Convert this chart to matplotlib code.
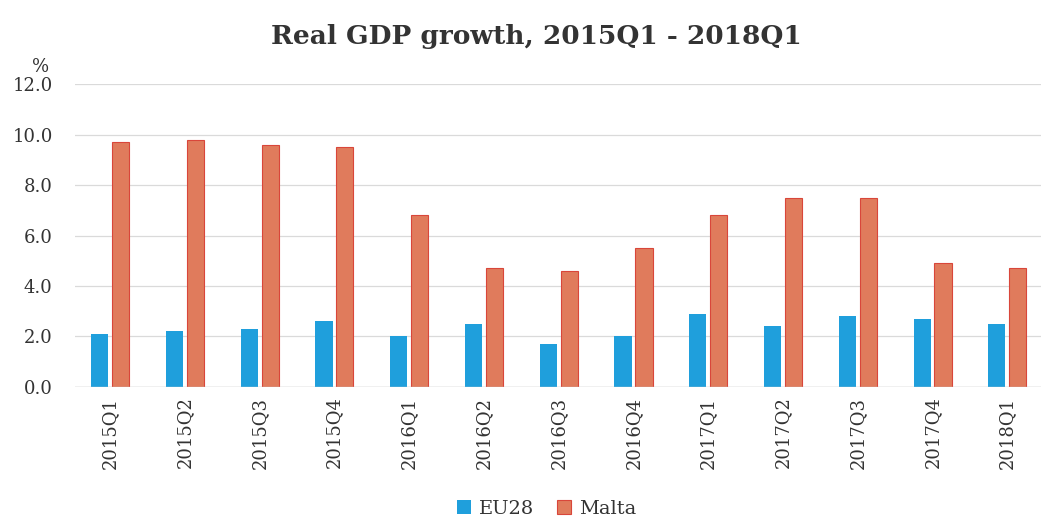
import numpy as np
import matplotlib.pyplot as plt

quarters = ['2015Q1', '2015Q2', '2015Q3', '2015Q4', '2016Q1', '2016Q2', '2016Q3',
            '2016Q4', '2017Q1', '2017Q2', '2017Q3', '2017Q4', '2018Q1']
eu28 = [2.1, 2.2, 2.3, 2.6, 2.0, 2.5, 1.7, 2.0, 2.9, 2.4, 2.8, 2.7, 2.5]
malta = [9.7, 9.8, 9.6, 9.5, 6.8, 4.7, 4.6, 5.5, 6.8, 7.5, 7.5, 4.9, 4.7]

plt.rcParams['font.family'] = ['DejaVu Serif']

fig = plt.figure(figsize=(10.41, 5.2), dpi=100)
ax = fig.add_axes([0.072, 0.256, 0.928, 0.582])

x = np.arange(len(quarters))
w = 0.23
ax.bar(x - w / 2 - 0.025, eu28, w, color='#1f9fdc', label='EU28')
ax.bar(x + w / 2 + 0.025, malta, w, color='#e07b5c', edgecolor='#d9463a',
       linewidth=0.8, label='Malta')

ax.set_ylim(0, 12)
ax.set_xlim(-0.47, 12.45)
ax.set_yticks(np.arange(0, 12.1, 2))
ax.set_yticklabels([f'{v:.1f}' for v in np.arange(0, 12.1, 2)], fontsize=13, color='#333333')
ax.set_xticks(x)
ax.set_xticklabels(quarters, rotation=90, fontsize=13, color='#333333')
ax.tick_params(length=0, pad=7)
ax.tick_params(axis='y', pad=16)

ax.grid(axis='y', color='#dadada', linewidth=0.9)
ax.set_axisbelow(True)
for s in ax.spines.values():
    s.set_visible(False)
ax.axhline(0, color='#c8c8c8', linewidth=1)

ax.text(-0.036, 1.04, '%', transform=ax.transAxes, ha='center', fontsize=13,
        color='#333333')

fig.text(0.515, 0.915, 'Real GDP growth, 2015Q1 - 2018Q1', ha='center',
         fontsize=19, fontweight='bold', color='#333333')

fig.legend(loc='lower center', bbox_to_anchor=(0.525, -0.03), ncol=2, frameon=False,
           fontsize=14, handlelength=0.7, handleheight=0.7, handletextpad=0.4,
           columnspacing=1.2, labelcolor='#333333')

fig.savefig('out.png', dpi=100)
